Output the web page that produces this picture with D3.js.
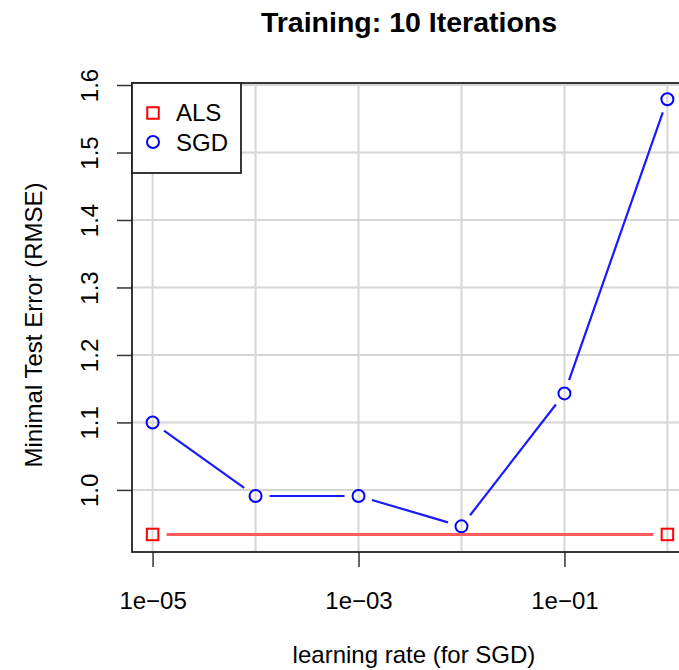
<!DOCTYPE html>
<html>
<head>
<meta charset="utf-8">
<script src="https://cdn.jsdelivr.net/npm/d3@7"></script>
<style>
  body { margin: 0; background: #fff; }
  svg { display: block; overflow: hidden; }
  text { font-family: "Liberation Sans", Arial, sans-serif; fill: #000; }
</style>
</head>
<body>
<div id="d3-graph"></div>

<script>
// data
const learningRates = [1e-5, 1e-4, 1e-3, 1e-2, 1e-1, 1];
const sgdRmse = [1.100, 0.991, 0.991, 0.946, 1.143, 1.579];
const alsRates = [1e-5, 1];
const alsRmse = [0.934, 0.934];
const xTickValues = [1e-5, 1e-3, 1e-1];
const xTickLabels = ["1e\u221205", "1e\u221203", "1e\u221201"];
const yTickValues = [1.0, 1.1, 1.2, 1.3, 1.4, 1.5, 1.6];
const yTickLabels = ["1.0", "1.1", "1.2", "1.3", "1.4", "1.5", "1.6"];
const legendNames = ["ALS", "SGD"];

// the plot box runs past the right edge of the window, as in the source image
const W = 679, H = 670;
const box = {left: 132, right: 688, top: 83, bottom: 552};

const svg = d3.select("#d3-graph")
  .append("svg")
    .attr("width", W)
    .attr("height", H);

const x = d3.scaleLog()
  .domain([Math.pow(10, -5.2), Math.pow(10, 0.2)])
  .range([box.left, box.right]);

const y = d3.scaleLinear()
  .domain([0.908, 1.603])
  .range([box.bottom, box.top]);

// grid
svg.append("g")
  .selectAll("line")
  .data(learningRates)
  .join("line")
    .attr("x1", d => x(d)).attr("x2", d => x(d))
    .attr("y1", box.top).attr("y2", box.bottom)
    .attr("stroke", "#d6d6d6")
    .attr("stroke-width", 2);

svg.append("g")
  .selectAll("line")
  .data(yTickValues)
  .join("line")
    .attr("x1", box.left).attr("x2", box.right)
    .attr("y1", d => y(d)).attr("y2", d => y(d))
    .attr("stroke", "#d6d6d6")
    .attr("stroke-width", 2);

// axes (ticks and labels drawn by d3 axes, then restyled)
const xAxis = svg.append("g")
  .attr("transform", `translate(0, ${box.bottom})`)
  .call(d3.axisBottom(x)
    .tickValues(xTickValues)
    .tickFormat((d, i) => xTickLabels[i])
    .tickSize(15)
    .tickSizeOuter(0)
    .tickPadding(25));
xAxis.select(".domain").remove();
xAxis.selectAll("line").attr("stroke", "#333").attr("stroke-width", 1.5);
xAxis.selectAll("text")
  .attr("font-size", 24)
  .attr("font-family", "Liberation Sans, Arial, sans-serif")
  .attr("fill", "#000");

const yAxis = svg.append("g")
  .attr("transform", `translate(${box.left}, 0)`)
  .call(d3.axisLeft(y)
    .tickValues(yTickValues)
    .tickFormat((d, i) => yTickLabels[i])
    .tickSize(15)
    .tickSizeOuter(0));
yAxis.select(".domain").remove();
yAxis.selectAll("line").attr("stroke", "#333").attr("stroke-width", 1.5);
yAxis.selectAll("text")
  .attr("x", null).attr("dy", null)
  .attr("transform", "translate(-34, 0) rotate(-90)")
  .attr("text-anchor", "middle")
  .attr("font-size", 24)
  .attr("font-family", "Liberation Sans, Arial, sans-serif")
  .attr("fill", "#000");

// box around the plot
svg.append("rect")
  .attr("x", box.left).attr("y", box.top)
  .attr("width", box.right - box.left)
  .attr("height", box.bottom - box.top)
  .attr("fill", "none")
  .attr("stroke", "#222")
  .attr("stroke-width", 1.8);

// lines with gaps round the points (like type = "b")
function gappedSegments(xs, ys, gap) {
  const pts = xs.map((d, i) => [x(d), y(ys[i])]);
  const segs = [];
  for (let i = 0; i < pts.length - 1; i++) {
    const [x0, y0] = pts[i], [x1, y1] = pts[i + 1];
    const len = Math.hypot(x1 - x0, y1 - y0);
    if (len <= 2 * gap) continue;
    const ux = (x1 - x0) / len, uy = (y1 - y0) / len;
    segs.push([x0 + ux * gap, y0 + uy * gap, x1 - ux * gap, y1 - uy * gap]);
  }
  return segs;
}

svg.append("g")
  .selectAll("line")
  .data(gappedSegments(alsRates, alsRmse, 14))
  .join("line")
    .attr("x1", d => d[0]).attr("y1", d => d[1])
    .attr("x2", d => d[2]).attr("y2", d => d[3])
    .attr("stroke", "#ff5c5c")
    .attr("stroke-width", 3);

svg.append("g")
  .selectAll("line")
  .data(gappedSegments(learningRates, sgdRmse, 14))
  .join("line")
    .attr("x1", d => d[0]).attr("y1", d => d[1])
    .attr("x2", d => d[2]).attr("y2", d => d[3])
    .attr("stroke", "#1a1aff")
    .attr("stroke-width", 2.2);

const sq = 11.5;
svg.append("g")
  .selectAll("rect")
  .data(alsRates)
  .join("rect")
    .attr("x", d => x(d) - sq / 2)
    .attr("y", (d, i) => y(alsRmse[i]) - sq / 2)
    .attr("width", sq).attr("height", sq)
    .attr("fill", "none")
    .attr("stroke", "#ff0000")
    .attr("stroke-width", 2);

svg.append("g")
  .selectAll("circle")
  .data(learningRates)
  .join("circle")
    .attr("cx", d => x(d))
    .attr("cy", (d, i) => y(sgdRmse[i]))
    .attr("r", 6)
    .attr("fill", "none")
    .attr("stroke", "#0000ff")
    .attr("stroke-width", 2);

// legend
const legend = svg.append("g");
legend.append("rect")
  .attr("x", box.left).attr("y", box.top)
  .attr("width", 109).attr("height", 90)
  .attr("fill", "#fff")
  .attr("stroke", "#222")
  .attr("stroke-width", 1.8);

legend.append("rect")
  .attr("x", 153 - sq / 2).attr("y", 113 - sq / 2)
  .attr("width", sq).attr("height", sq)
  .attr("fill", "none")
  .attr("stroke", "#ff0000")
  .attr("stroke-width", 2);
legend.append("circle")
  .attr("cx", 153).attr("cy", 142)
  .attr("r", 6)
  .attr("fill", "none")
  .attr("stroke", "#0000ff")
  .attr("stroke-width", 2);

legend.selectAll("text")
  .data(legendNames)
  .join("text")
    .attr("x", 176)
    .attr("y", (d, i) => 121 + i * 29.5)
    .attr("font-size", 24)
    .text(d => d);

// titles
svg.append("text")
  .attr("x", 409).attr("y", 32)
  .attr("text-anchor", "middle")
  .attr("font-size", 28.5)
  .attr("font-weight", "bold")
  .text("Training: 10 Iterations");

svg.append("text")
  .attr("x", 414).attr("y", 663)
  .attr("text-anchor", "middle")
  .attr("font-size", 24)
  .text("learning rate (for SGD)");

svg.append("text")
  .attr("transform", "translate(42, 325) rotate(-90)")
  .attr("text-anchor", "middle")
  .attr("font-size", 24)
  .text("Minimal Test Error (RMSE)");
</script>
</body>
</html>
